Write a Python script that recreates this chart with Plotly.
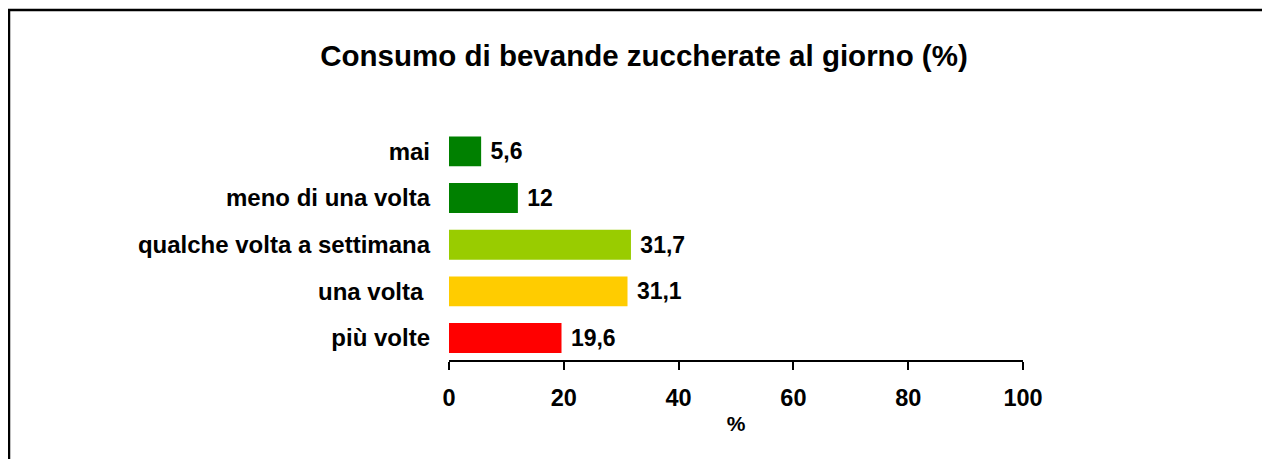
import plotly.graph_objects as go

categories = ["mai", "meno di una volta", "qualche volta a settimana", "una volta ", "più volte"]
values = [5.6, 12, 31.7, 31.1, 19.6]
value_labels = ["5,6", "12", "31,7", "31,1", "19,6"]
colors = ["#008000", "#008000", "#99CC00", "#FFCC00", "#FF0000"]
x_ticks = [0, 20, 40, 60, 80, 100]

W, H = 1262, 451
L, R, T, B = 441, 1015, 120, 352
FONT = "Liberation Sans, Arial"

fig = go.Figure(go.Bar(
    x=values, y=categories, orientation="h",
    marker=dict(color=colors, line=dict(width=0)),
    text=[" " + t for t in value_labels], textposition="outside",
    textfont=dict(family=FONT, size=23, color="#000000", weight="bold"),
    cliponaxis=False, width=0.64,
))

pw, ph = R - L, B - T
fig.add_shape(type="rect", xref="paper", yref="paper",
              x0=(1.0 - L) / pw, x1=(1400 - L) / pw,
              y0=(B - 600) / ph, y1=1 + (T - 2.0) / ph,
              line=dict(color="black", width=2.5), fillcolor="rgba(0,0,0,0)")

fig.update_layout(
    width=W, height=H,
    margin=dict(l=L, r=W - R, t=T, b=H - B, pad=0),
    paper_bgcolor="white", plot_bgcolor="white",
    showlegend=False,
    title=dict(text="<b>Consumo di bevande zuccherate al giorno (%)</b>",
               x=636 / W, xanchor="center", y=1 - 48 / H, yanchor="middle",
               yref="container", xref="container",
               font=dict(family=FONT, size=29.5, color="black")),
    xaxis=dict(range=[0, 100], tickvals=x_ticks, ticktext=[str(t) for t in x_ticks],
               showgrid=False, zeroline=False, showline=True, linecolor="black", linewidth=2,
               ticks="outside", ticklen=8, tickwidth=2, tickcolor="black",
               ticklabelstandoff=8,
               tickfont=dict(family=FONT, size=23.5, color="black", weight="bold"),
               title=dict(text="<b>%</b>", standoff=6,
                          font=dict(family=FONT, size=21, color="black")),
               fixedrange=True),
    yaxis=dict(autorange=False, range=[4.47, -0.5], type="category",
               showgrid=False, zeroline=False, showline=False, ticks="",
               ticklabelstandoff=18,
               tickfont=dict(family=FONT, size=24, color="black", weight="bold"),
               fixedrange=True),
)

fig.write_html("out.html")
